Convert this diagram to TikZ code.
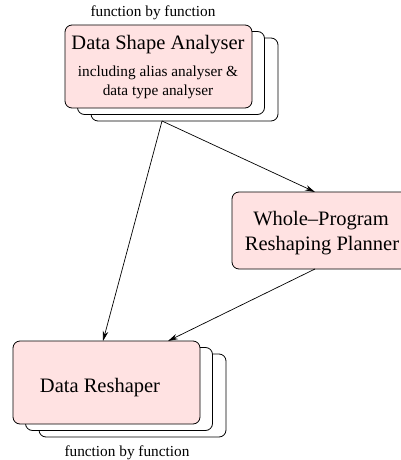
\documentclass[tikz,border=0pt]{standalone}
\usepackage{fontspec}
\setmainfont{Liberation Serif}
\usetikzlibrary{arrows.meta,calc}
\definecolor{boxpink}{RGB}{255,226,226}
\tikzset{
  box/.style={draw=black, line width=0.8pt, rounded corners=7pt, minimum width=#1, inner sep=0pt},
  backbox/.style={box=187pt, fill=white, minimum height=83pt},
  frontbox/.style={box=187pt, fill=boxpink, minimum height=83pt},
  bigtxt/.style={font=\fontsize{20.5}{24}\selectfont, anchor=base, inner sep=0pt},
  smalltxt/.style={font=\fontsize{15.3}{18}\selectfont, anchor=base, inner sep=0pt},
  conn/.style={line width=0.7pt, -{Stealth[length=10pt,width=5.5pt]}},
}
\begin{document}
\begin{tikzpicture}[x=1pt,y=-1pt]
\useasboundingbox (0,0) rectangle (401,460);
% top stack
\node[backbox] (dsa3) at (184.5,79.5) {};
\node[backbox] (dsa2) at (171,73) {};
\node[frontbox] (dsa) at (158.5,66.5) {};
\node[bigtxt] (dsaT) at (158,50) {Data Shape Analyser};
\node[smalltxt] (dsaS1) at (158,77) {including alias analyser \&};
\node[smalltxt] (dsaS2) at (158,95) {data type analyser};
\node[smalltxt] (lblTop) at (153,17) {function by function};
% whole-program planner
\node[box=190pt, fill=boxpink, minimum height=77pt] (wp) at (327,230.5) {};
\node[bigtxt] (wpT1) at (321,225) {Whole--Program};
\node[bigtxt] (wpT2) at (322,250) {Reshaping Planner};
% bottom stack
\node[backbox] (dr3) at (132.5,395.5) {};
\node[backbox] (dr2) at (119,389) {};
\node[frontbox] (dr) at (106.5,382.5) {};
\node[bigtxt] (drT) at (100,392) {Data Reshaper};
\node[smalltxt] (lblBot) at (127,456) {function by function};
% connectors
\coordinate (src) at (162,121);
\coordinate (drin1) at (103,341);
\coordinate (drin2) at (168,341);
\coordinate (wpin) at (315,192);
\coordinate (wpout) at (315,269);
\draw[conn] (src) -- (drin1);
\draw[conn] (src) -- (wpin);
\draw[conn] (wpout) -- (drin2);
\end{tikzpicture}
\end{document}
